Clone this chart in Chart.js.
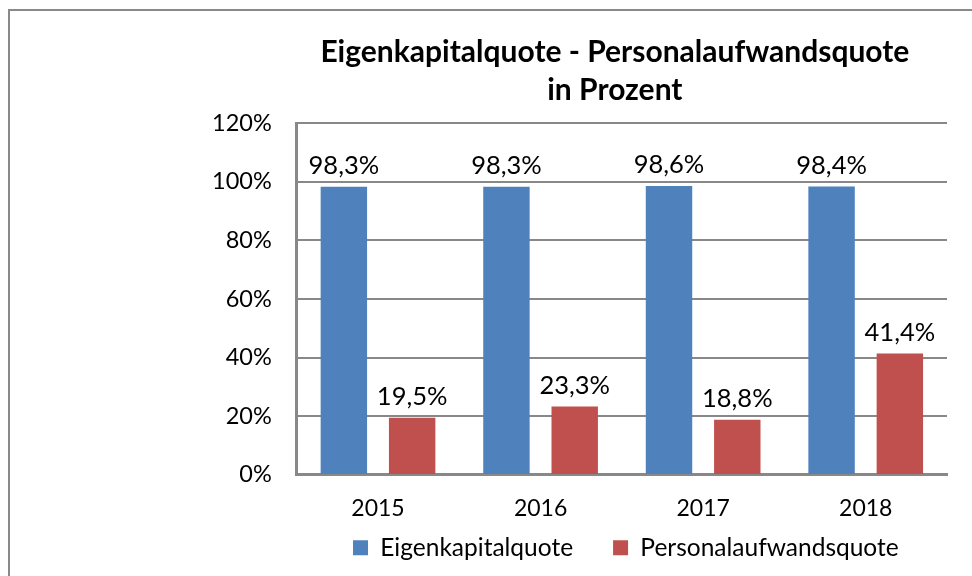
<!DOCTYPE html>
<html>
<head>
<meta charset="utf-8">
<script src="https://cdn.jsdelivr.net/npm/chart.js@4.4.0/dist/chart.umd.min.js"></script>
<style>
  html, body { margin: 0; padding: 0; background: #fff; }
  #wrap { position: relative; width: 972px; height: 576px; overflow: hidden; }
  #rahmen { position: absolute; left: 8px; top: 9px; width: 1000px; height: 600px;
            border-left: 2px solid #898989; border-top: 2px solid #898989; }
  #grafik { position: absolute; left: 0; top: 0; }
</style>
</head>
<body>
<div id="wrap">
  <div id="rahmen"></div>
  <canvas id="grafik" width="972" height="576"></canvas>
</div>
<script>
// Jahre und Quoten (in Prozent)
const jahre = ['2015', '2016', '2017', '2018'];
const eigenkapitalquote = [98.3, 98.3, 98.6, 98.4];
const personalaufwandsquote = [19.5, 23.3, 18.8, 41.4];
const yTicks = [0, 20, 40, 60, 80, 100, 120];

const schrift = 'Lato, "Open Sans", sans-serif';
const legendeHoch = 47; // Legende näher an die Jahreszahlen rücken

// Titel und Legende über dem Plotbereich zentrieren (wie in Excel)
const zentrieren = {
  id: 'zentrieren',
  beforeLayout(chart) {
    const lg = chart.legend;
    if (lg && !lg._angepasst) {
      const fit = lg.fit;
      lg.fit = function () { fit.call(this); this.height -= legendeHoch; };
      lg._angepasst = true;
    }
  },
  afterLayout(chart) {
    const a = chart.chartArea;
    if (chart.titleBlock) { chart.titleBlock.left = a.left - 7; chart.titleBlock.right = a.right - 7; }
    if (chart.legend) {
      chart.legend.left = a.left + 8;
      chart.legend.right = a.right;
      chart.legend.top -= legendeHoch;
    }
  }
};

// Werte über den Balken
const beschriftung = {
  id: 'beschriftung',
  afterDatasetsDraw(chart) {
    const ctx = chart.ctx;
    ctx.save();
    ctx.font = '25.5px ' + schrift;
    ctx.fillStyle = '#000';
    ctx.textAlign = 'center';
    ctx.textBaseline = 'middle';
    chart.data.datasets.forEach((ds, i) => {
      chart.getDatasetMeta(i).data.forEach((bar, j) => {
        const txt = ds.data[j].toFixed(1).replace('.', ',') + '%';
        ctx.fillText(txt, bar.x, bar.y - 21);
      });
    });
    ctx.restore();
  }
};

new Chart(document.getElementById('grafik').getContext('2d'), {
  type: 'bar',
  data: {
    labels: jahre,
    datasets: [{
      label: 'Eigenkapitalquote',
      data: eigenkapitalquote,
      backgroundColor: '#4F81BD',
      categoryPercentage: 0.84,
      barPercentage: 0.68
    }, {
      label: 'Personalaufwandsquote',
      data: personalaufwandsquote,
      backgroundColor: '#C0504D',
      categoryPercentage: 0.84,
      barPercentage: 0.68
    }]
  },
  options: {
    responsive: false,
    animation: false,
    layout: { padding: { left: 187, right: 25, top: 20, bottom: 6 } },
    plugins: {
      title: {
        display: true,
        text: ['Eigenkapitalquote - Personalaufwandsquote', 'in Prozent'],
        color: '#000',
        font: { family: schrift, size: 30, weight: 'bold', lineHeight: 1.27 },
        padding: { top: 13, bottom: 14 }
      },
      legend: {
        display: true,
        position: 'bottom',
        labels: {
          color: '#000',
          font: { family: schrift, size: 24.5 },
          boxWidth: 15,
          boxHeight: 15,
          padding: 40
        }
      },
      tooltip: { enabled: false }
    },
    scales: {
      y: {
        min: 0,
        max: 120,
        afterBuildTicks: axis => { axis.ticks = yTicks.map(v => ({ value: v })); },
        ticks: {
          color: '#000',
          font: { family: schrift, size: 23.5 },
          padding: 25,
          callback: v => v + '%'
        },
        grid: { color: '#888', lineWidth: 2, drawTicks: false },
        border: { color: '#888', width: 3 }
      },
      x: {
        ticks: {
          color: '#000',
          font: { family: schrift, size: 23 },
          padding: 20
        },
        grid: { display: false, drawTicks: false },
        border: { color: '#888', width: 3 }
      }
    }
  },
  plugins: [zentrieren, beschriftung]
});
</script>
</body>
</html>
